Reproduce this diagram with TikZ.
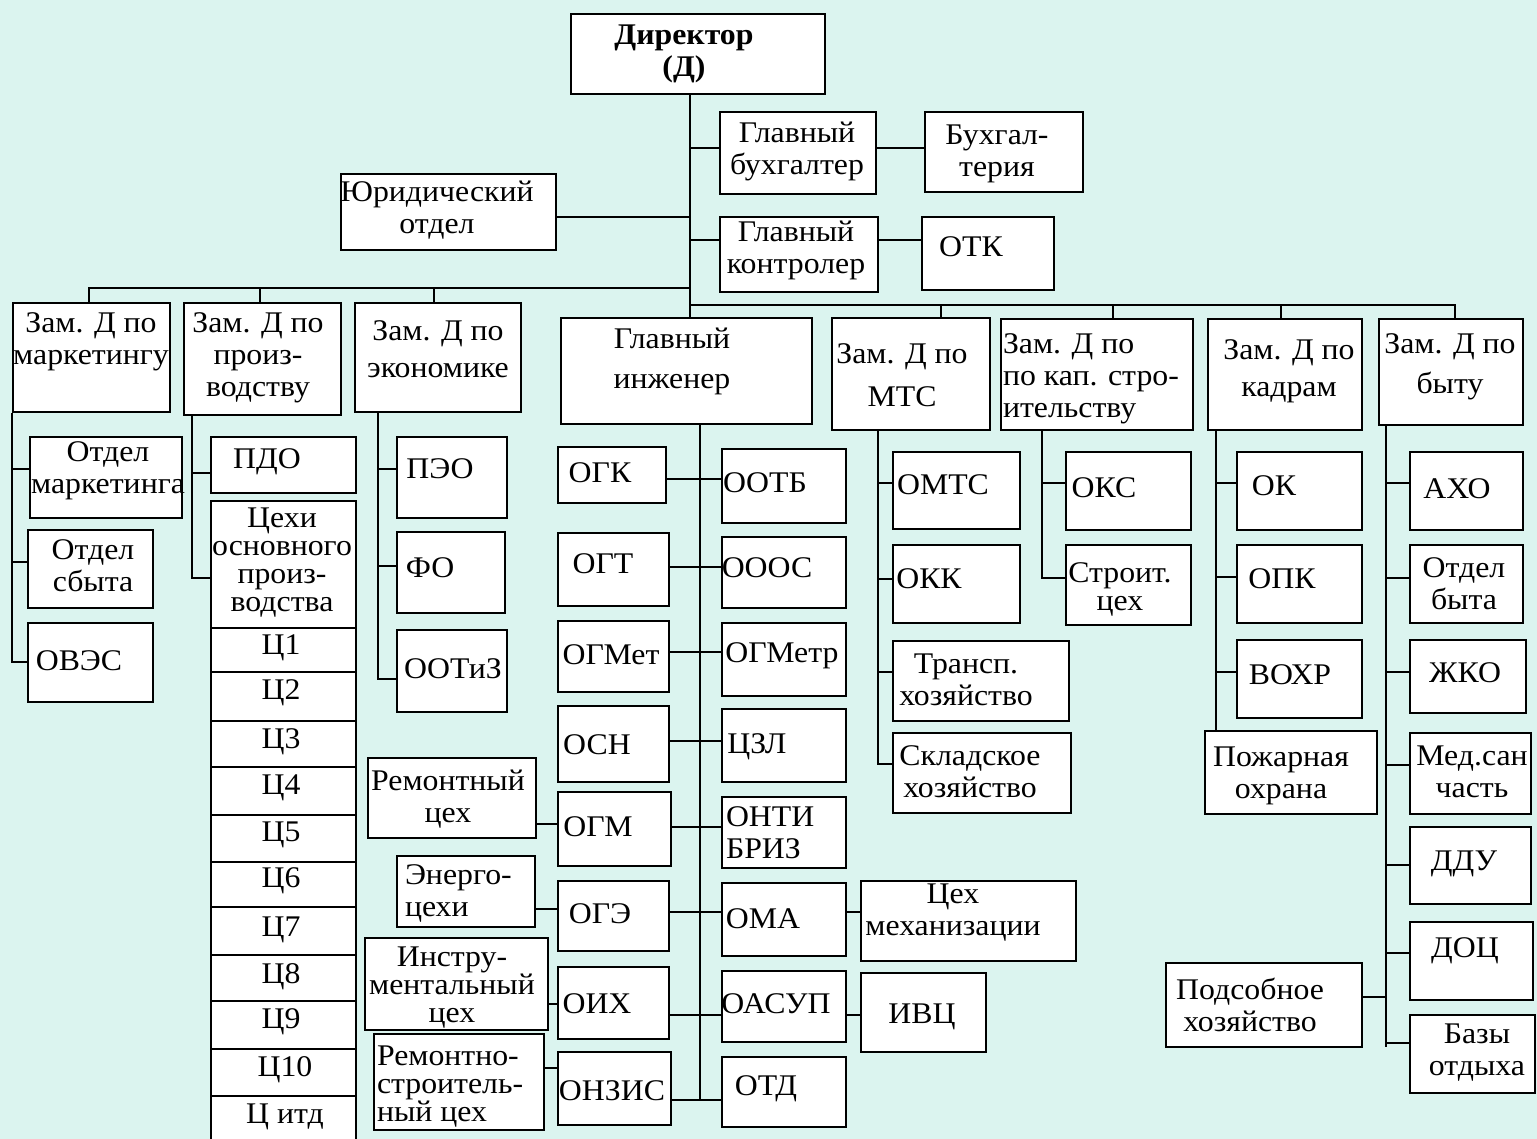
\documentclass[tikz,border=0pt]{standalone}
\usepackage{fontspec}
\setmainfont{Liberation Serif}[FakeStretch=1.06]
\usetikzlibrary{fit}
\definecolor{bgcyan}{RGB}{219,244,239}
\tikzset{every picture/.style={line width=2pt}}
\tikzset{
  box/.style={draw, fill=white, inner sep=0pt},
  lbl/.style={inner sep=0pt, align=center, font=\fontsize{30}{32}\selectfont},
  lbltight/.style={lbl, font=\fontsize{30}{28}\selectfont},
}
\begin{document}
\begin{tikzpicture}[x=1pt,y=1pt,yscale=-1,xscale=1]
\useasboundingbox (0,0) rectangle (1537,1139);
\path[fill=bgcyan] (0,0) rectangle (1537,1139);

%Shape: Rectangle [top]
\node[box, fit={(571,14) (825,94)}] (dir) {};
\node[box, fit={(720,112) (876,194)}] (gb) {};
\node[box, fit={(925,112) (1083,192)}] (buh) {};
\node[box, fit={(341,174) (556,250)}] (yur) {};
\node[box, fit={(720,217) (878,292)}] (gk) {};
\node[box, fit={(922,217) (1054,290)}] (otk) {};
%Shape: Rectangle [deputies]
\node[box, fit={(13,303) (170,412)}] (zm) {};
\node[box, fit={(184,303) (341,415)}] (zp) {};
\node[box, fit={(355,303) (521,412)}] (ze) {};
\node[box, fit={(561,318) (812,424)}] (ge) {};
\node[box, fit={(832,318) (990,430)}] (zmts) {};
\node[box, fit={(1001,319) (1193,430)}] (zks) {};
\node[box, fit={(1208,319) (1362,430)}] (zk) {};
\node[box, fit={(1379,319) (1523,425)}] (zb) {};
%Shape: Rectangle [marketing, production, economics]
\node[box, fit={(30,437) (182,518)}] (omk) {};
\node[box, fit={(28,530) (153,608)}] (osb) {};
\node[box, fit={(28,623) (153,702)}] (ovs) {};
\node[box, fit={(211,437) (356,493)}] (pdo) {};
\node[box, fit={(211,501) (356,628)}] (cex) {};
\node[box, fit={(211,628) (356,672)}] (c1) {};
\node[box, fit={(211,672) (356,721)}] (c2) {};
\node[box, fit={(211,721) (356,767)}] (c3) {};
\node[box, fit={(211,767) (356,815)}] (c4) {};
\node[box, fit={(211,815) (356,862)}] (c5) {};
\node[box, fit={(211,862) (356,907)}] (c6) {};
\node[box, fit={(211,907) (356,955)}] (c7) {};
\node[box, fit={(211,955) (356,1001)}] (c8) {};
\node[box, fit={(211,1001) (356,1049)}] (c9) {};
\node[box, fit={(211,1049) (356,1096)}] (c10) {};
\node[box, fit={(211,1096) (356,1142)}] (citd) {};
\node[box, fit={(397,437) (507,518)}] (peo) {};
\node[box, fit={(397,532) (505,613)}] (fo) {};
\node[box, fit={(397,630) (507,712)}] (ootz) {};
%Shape: Rectangle [chief engineer]
\node[box, fit={(558,447) (666,503)}] (ogk) {};
\node[box, fit={(558,533) (669,606)}] (ogt) {};
\node[box, fit={(558,621) (669,692)}] (ogmet) {};
\node[box, fit={(558,706) (669,782)}] (osn) {};
\node[box, fit={(558,792) (671,866)}] (ogm) {};
\node[box, fit={(558,881) (669,951)}] (oge) {};
\node[box, fit={(558,967) (669,1039)}] (oih) {};
\node[box, fit={(558,1052) (671,1125)}] (onzis) {};
\node[box, fit={(722,449) (846,523)}] (ootb) {};
\node[box, fit={(722,537) (846,608)}] (ooos) {};
\node[box, fit={(722,623) (846,696)}] (ogmetr) {};
\node[box, fit={(722,709) (846,782)}] (czl) {};
\node[box, fit={(722,797) (846,868)}] (onti) {};
\node[box, fit={(722,883) (846,956)}] (oma) {};
\node[box, fit={(722,971) (846,1042)}] (oasup) {};
\node[box, fit={(722,1057) (846,1127)}] (otd) {};
\node[box, fit={(861,881) (1076,961)}] (cmech) {};
\node[box, fit={(861,973) (986,1052)}] (ivc) {};
\node[box, fit={(368,758) (536,838)}] (remc) {};
\node[box, fit={(397,856) (535,927)}] (energ) {};
\node[box, fit={(365,938) (548,1030)}] (instr) {};
\node[box, fit={(374,1034) (544,1130)}] (remst) {};
%Shape: Rectangle [MTS, construction, staff, welfare]
\node[box, fit={(893,452) (1020,529)}] (omts) {};
\node[box, fit={(893,545) (1020,623)}] (okk) {};
\node[box, fit={(893,641) (1069,721)}] (trans) {};
\node[box, fit={(893,733) (1071,813)}] (sklad) {};
\node[box, fit={(1066,452) (1191,530)}] (oks) {};
\node[box, fit={(1066,545) (1191,625)}] (stroit) {};
\node[box, fit={(1237,452) (1362,530)}] (ok) {};
\node[box, fit={(1237,545) (1362,623)}] (opk) {};
\node[box, fit={(1237,640) (1362,718)}] (vohr) {};
\node[box, fit={(1205,731) (1377,814)}] (pozh) {};
\node[box, fit={(1166,963) (1362,1047)}] (podsob) {};
\node[box, fit={(1410,452) (1523,530)}] (aho) {};
\node[box, fit={(1410,545) (1523,623)}] (obyt) {};
\node[box, fit={(1410,640) (1526,713)}] (zhko) {};
\node[box, fit={(1410,733) (1531,814)}] (med) {};
\node[box, fit={(1410,827) (1531,904)}] (ddu) {};
\node[box, fit={(1410,922) (1533,1000)}] (doc) {};
\node[box, fit={(1410,1015) (1535,1093)}] (bazy) {};

%Straight Lines [trunk and buses]
\coordinate (jl) at (dir.south -| 690,0);
\draw (jl) -- (ge.north -| jl);
\draw (jl |- 0,148) -- (gb.west |- 0,148);
\draw (gb.east |- 0,148) -- (buh.west |- 0,148);
\draw (yur.east |- 0,217) -- (jl |- 0,217);
\draw (jl |- 0,240) -- (gk.west |- 0,240);
\draw (gk.east |- 0,240) -- (otk.west |- 0,240);
\draw (jl |- 0,288) -| (zm.north -| 89,0);
\draw (260,288) -- (zp.north -| 260,0);
\draw (434,288) -- (ze.north -| 434,0);
\draw (jl |- 0,305) -| (zb.north -| 1455,0);
\draw (941,305) -- (zmts.north -| 941,0);
\draw (1113,305) -- (zks.north -| 1113,0);
\draw (1281,305) -- (zk.north -| 1281,0);

%Straight Lines [columns]
\coordinate (cm) at (zm.south west);
\draw (cm) |- (ovs.west |- 0,662);
\draw (cm |- 0,469) -- (omk.west |- 0,469);
\draw (cm |- 0,562) -- (osb.west |- 0,562);
\coordinate (cp) at (zp.south -| 192,0);
\draw (cp) |- (cex.west |- 0,578);
\draw (cp |- 0,473) -- (pdo.west |- 0,473);
\coordinate (ce) at (ze.south -| 378,0);
\draw (ce) |- (ootz.west |- 0,679);
\draw (ce |- 0,469) -- (peo.west |- 0,469);
\draw (ce |- 0,566) -- (fo.west |- 0,566);
\coordinate (ci) at (ge.south -| 700,0);
\draw (ci) -- (ci |- 0,1100);
\draw (ogk.east |- 0,479) -- (ootb.west |- 0,479);
\draw (ogt.east |- 0,567) -- (ooos.west |- 0,567);
\draw (ogmet.east |- 0,652) -- (ogmetr.west |- 0,652);
\draw (osn.east |- 0,741) -- (czl.west |- 0,741);
\draw (ogm.east |- 0,827) -- (onti.west |- 0,827);
\draw (oge.east |- 0,912) -- (oma.west |- 0,912);
\draw (oih.east |- 0,1015) -- (oasup.west |- 0,1015);
\draw (onzis.east |- 0,1100) -- (otd.west |- 0,1100);
\draw (oma.east |- 0,912) -- (cmech.west |- 0,912);
\draw (oasup.east |- 0,1015) -- (ivc.west |- 0,1015);
\draw (remc.east |- 0,824) -- (ogm.west |- 0,824);
\draw (energ.east |- 0,909) -- (oge.west |- 0,909);
\draw (instr.east |- 0,1004) -- (oih.west |- 0,1004);
\draw (remst.east |- 0,1068) -- (onzis.west |- 0,1068);
\coordinate (cs) at (zmts.south -| 878,0);
\draw (cs) |- (sklad.west |- 0,764);
\draw (cs |- 0,483) -- (omts.west |- 0,483);
\draw (cs |- 0,579) -- (okk.west |- 0,579);
\draw (cs |- 0,672) -- (trans.west |- 0,672);
\coordinate (ck) at (zks.south -| 1042,0);
\draw (ck) |- (stroit.west |- 0,578);
\draw (ck |- 0,483) -- (oks.west |- 0,483);
\coordinate (cr) at (zk.south -| 1216,0);
\draw (cr) -- (pozh.north -| cr);
\draw (cr |- 0,483) -- (ok.west |- 0,483);
\draw (cr |- 0,577) -- (opk.west |- 0,577);
\draw (cr |- 0,672) -- (vohr.west |- 0,672);
\coordinate (cb) at (zb.south -| 1386,0);
\draw (cb) -- (cb |- 0,1047);
\draw (cb |- 0,483) -- (aho.west |- 0,483);
\draw (cb |- 0,578) -- (obyt.west |- 0,578);
\draw (cb |- 0,672) -- (zhko.west |- 0,672);
\draw (cb |- 0,765) -- (med.west |- 0,765);
\draw (cb |- 0,865) -- (ddu.west |- 0,865);
\draw (cb |- 0,953) -- (doc.west |- 0,953);
\draw (cb |- 0,1043) -- (bazy.west |- 0,1043);
\draw (podsob.east |- 0,997) -- (cb |- 0,997);

% Text Node
\node[lbl, font=\fontsize{30}{32}\selectfont\bfseries] (dir-t) at (684,54) {Директор\\(Д)};
\node[lbl] (gb-t) at (797,151) {Главный\\бухгалтер};
\node[lbl] (buh-t) at (997,154) {Бухгал-\\терия};
\node[lbl] (yur-t) at (437,210) {Юридический\\отдел};
\node[lbl] (gk-t) at (796,250) {Главный\\контролер};
\node[lbl] (otk-t) at (971,247) {ОТК};
\node[lbl] (zm-t) at (91,342) {Зам. Д по\\маркетингу};
\node[lbl] (zp-t) at (258,358) {Зам. Д по\\произ-\\водству};
\node[lbl] (ze-t) at (438,349) {Зам. Д по\\[5pt]экономике};
\node[lbl] (ge-t) at (672,361) {Главный\\[8pt]инженер};
\node[lbl] (zmts-t) at (902,375) {Зам. Д по\\[11pt]МТС};
\node[lbl, anchor=west, align=left] (zks-t) at (1002,379) {Зам. Д по\\по кап. стро-\\ительству};
\node[lbl] (zk-t) at (1289,371) {Зам. Д по\\[5pt]кадрам};
\node[lbl] (zb-t) at (1450,367) {Зам. Д по\\[8pt]быту};
\node[lbl] (omk-t) at (108,471) {Отдел\\маркетинга};
\node[lbl] (osb-t) at (93,566) {Отдел\\сбыта};
\node[lbl] (ovs-t) at (79,661) {ОВЭС};
\node[lbl] (pdo-t) at (267,462) {ПДО};
\node[lbltight] (cex-t) at (282,563) {Цехи\\основного\\произ-\\водства};
\node[lbl] (c1-t) at (281,648) {Ц1};
\node[lbl] (c2-t) at (281,693) {Ц2};
\node[lbl] (c3-t) at (281,742) {Ц3};
\node[lbl] (c4-t) at (281,788) {Ц4};
\node[lbl] (c5-t) at (281,835) {Ц5};
\node[lbl] (c6-t) at (281,881) {Ц6};
\node[lbl] (c7-t) at (281,930) {Ц7};
\node[lbl] (c8-t) at (281,977) {Ц8};
\node[lbl] (c9-t) at (281,1022) {Ц9};
\node[lbl] (c10-t) at (285,1070) {Ц10};
\node[lbl] (citd-t) at (285,1117) {Ц итд};
\node[lbl] (peo-t) at (440,469) {ПЭО};
\node[lbl] (fo-t) at (430,568) {ФО};
\node[lbl] (ootz-t) at (453,669) {ООТиЗ};
\node[lbl] (ogk-t) at (600,473) {ОГК};
\node[lbl] (ogt-t) at (603,564) {ОГТ};
\node[lbl] (ogmet-t) at (611,655) {ОГМет};
\node[lbl] (osn-t) at (597,745) {ОСН};
\node[lbl] (ogm-t) at (598,827) {ОГМ};
\node[lbl] (oge-t) at (600,914) {ОГЭ};
\node[lbl] (oih-t) at (597,1004) {ОИХ};
\node[lbl] (onzis-t) at (612,1091) {ОНЗИС};
\node[lbl] (ootb-t) at (765,483) {ООТБ};
\node[lbl] (ooos-t) at (767,568) {ОООС};
\node[lbl] (ogmetr-t) at (782,656) {ОГМетр};
\node[lbl] (czl-t) at (757,747) {ЦЗЛ};
\node[lbl, anchor=west, align=left] (onti-t) at (725,833) {ОНТИ\\БРИЗ};
\node[lbl] (oma-t) at (763,919) {ОМА};
\node[lbl] (oasup-t) at (776,1004) {ОАСУП};
\node[lbl] (otd-t) at (766,1089) {ОТД};
\node[lbl] (cmech-t) at (953,913) {Цех\\механизации};
\node[lbl] (ivc-t) at (922,1017) {ИВЦ};
\node[lbl] (remc-t) at (448,799) {Ремонтный\\цех};
\node[lbl, anchor=west, align=left] (energ-t) at (404,893) {Энерго-\\цехи};
\node[lbltight] (instr-t) at (452,988) {Инстру-\\ментальный\\цех};
\node[lbltight, anchor=west, align=left] (remst-t) at (376,1087) {Ремонтно-\\строитель-\\ный цех};
\node[lbl] (omts-t) at (943,485) {ОМТС};
\node[lbl] (okk-t) at (929,579) {ОКК};
\node[lbl] (trans-t) at (966,680) {Трансп.\\хозяйство};
\node[lbl] (sklad-t) at (970,772) {Складское\\хозяйство};
\node[lbl] (oks-t) at (1104,488) {ОКС};
\node[lbltight] (stroit-t) at (1120,589) {Строит.\\цех};
\node[lbl] (ok-t) at (1274,486) {ОК};
\node[lbl] (opk-t) at (1282,579) {ОПК};
\node[lbl] (vohr-t) at (1290,675) {ВОХР};
\node[lbl] (pozh-t) at (1281,776) {Пожарная\\охрана};
\node[lbl] (podsob-t) at (1250,1005) {Подсобное\\хозяйство};
\node[lbl] (aho-t) at (1457,489) {АХО};
\node[lbl] (obyt-t) at (1464,584) {Отдел\\быта};
\node[lbl] (zhko-t) at (1465,673) {ЖКО};
\node[lbl] (med-t) at (1472,772) {Мед.сан\\часть};
\node[lbl] (ddu-t) at (1464,864) {ДДУ};
\node[lbl] (doc-t) at (1465,951) {ДОЦ};
\node[lbl] (bazy-t) at (1477,1053) {Базы\\отдыха};

\end{tikzpicture}
\end{document}
